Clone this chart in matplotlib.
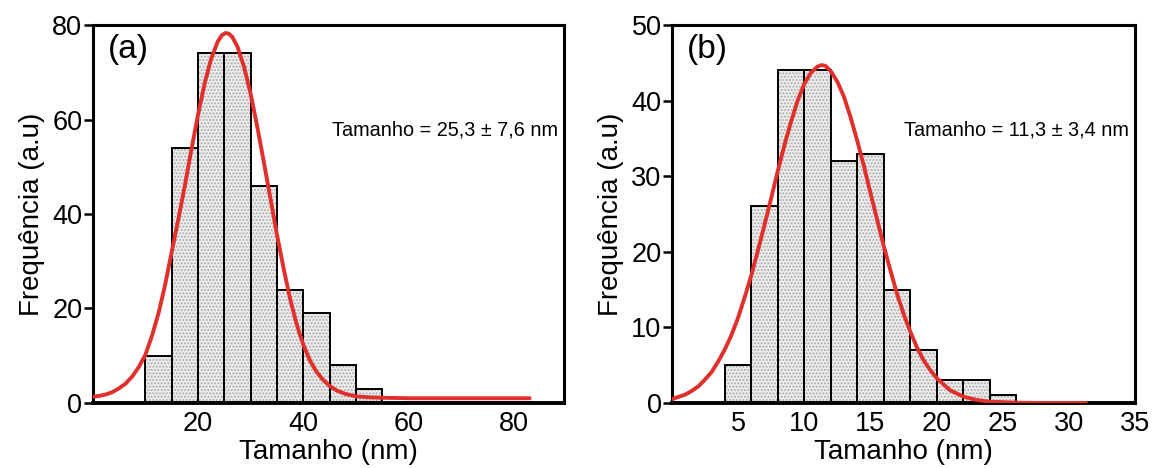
import matplotlib.pyplot as plt

plt.rcParams['font.family'] = ['Liberation Sans', 'DejaVu Sans']
plt.rcParams['hatch.linewidth'] = 0.9

# (a) histogram, bin width 5 nm
a_left = [10, 15, 20, 25, 30, 35, 40, 45, 50]
a_counts = [10, 54, 74, 74, 46, 24, 19, 8, 3]
a_width = 5
# fitted curve, points
a_fit_x = [0, 1.25, 2.5, 3.75, 5, 6.25, 7.5, 8.75, 10, 11.25, 12.5, 13.75, 15, 16.25,
           17.5, 18.75, 20, 21.25, 22.5, 23.75, 24.5, 25.2, 25.8, 26.5, 27.5, 28.75,
           30, 31.25, 32.5, 33.75, 35, 36.25, 37.5, 38.75, 40, 41.25, 42.5, 43.75,
           45, 46.25, 47.5, 48.75, 50, 52.5, 55, 60, 70, 83]
a_fit_y = [1.3, 1.5, 1.8, 2.3, 3.1, 4.1, 5.6, 7.6, 10.2, 14.2, 19.0, 25.0, 32.0, 38.8,
           46.0, 53.7, 61.0, 67.6, 72.9, 76.5, 77.8, 78.3, 78.2, 77.5, 75.4, 71.1,
           65.4, 58.5, 51.0, 43.3, 35.6, 28.5, 22.0, 16.6, 12.3, 9.0, 6.6, 4.9,
           3.6, 2.7, 2.1, 1.7, 1.4, 1.2, 1.1, 1.0, 1.0, 1.0]
a_text = "Tamanho = 25,3 \u00b1 7,6 nm"

# (b) histogram, bin width 2 nm
b_left = [4, 6, 8, 10, 12, 14, 16, 18, 20, 22, 24]
b_counts = [5, 26, 44, 44, 32, 33, 15, 7, 3, 3, 1]
b_width = 2
b_fit_x = [0, 0.5, 1, 1.5, 2, 2.5, 3, 3.5, 4, 4.5, 5, 5.5, 6, 6.5, 7, 7.5, 8, 8.5, 9,
           9.5, 10, 10.5, 11, 11.3, 11.6, 12, 12.5, 13, 13.5, 14, 14.5, 15, 15.5, 16,
           16.5, 17, 17.5, 18, 18.5, 19, 19.5, 20, 21, 22, 23, 24, 26, 28, 31.3]
b_fit_y = [0.5, 0.8, 1.1, 1.6, 2.2, 3.1, 4.1, 5.5, 7.1, 9.0, 11.3, 14.0, 16.9, 20.2,
           23.6, 27.1, 30.7, 34.1, 37.2, 40.0, 42.2, 43.7, 44.5, 44.7, 44.6, 43.9,
           42.5, 40.5, 37.8, 34.7, 31.4, 27.8, 24.3, 20.8, 17.6, 14.5, 11.8, 9.5,
           7.4, 5.7, 4.4, 3.3, 1.7, 0.85, 0.4, 0.17, 0.03, 0, 0]
b_text = "Tamanho = 11,3 \u00b1 3,4 nm"

red = '#e1302b'

fig = plt.figure(figsize=(11.52, 4.68), dpi=100)
ax_a = fig.add_axes([0.0805, 0.139, 0.4090, 0.8075])
ax_b = fig.add_axes([0.5833, 0.139, 0.4020, 0.8075])


def draw(ax, left, counts, width, fx, fy, text, label, xlim, ylim, xticks, yticks):
    ax.bar(left, counts, width=width, align='edge', color='#ececec',
           hatch='.....', edgecolor='#a8a8a8', linewidth=0, zorder=1)
    ax.bar(left, counts, width=width, align='edge', fill=False,
           edgecolor='black', linewidth=1.4, zorder=2)
    ax.plot(fx, fy, color=red, linewidth=2.8, zorder=3,
            solid_capstyle='round', solid_joinstyle='round')
    ax.set_xlim(*xlim)
    ax.set_ylim(*ylim)
    ax.set_xticks(xticks)
    ax.set_yticks(yticks)
    for s in ax.spines.values():
        s.set_linewidth(2.2)
    ax.spines['bottom'].set_linewidth(2.8)
    ax.tick_params(axis='y', length=6.5, width=1.8, labelsize=19.5, pad=1)
    ax.tick_params(axis='x', length=0, labelsize=19.5, pad=6)
    ax.set_xlabel("Tamanho (nm)", fontsize=20, labelpad=1)
    ax.set_ylabel("Frequ\u00eancia (a.u)", fontsize=20, labelpad=5)
    ax.text(0.032, 0.975, label, transform=ax.transAxes, fontsize=24,
            ha='left', va='top')
    ax.text(0.987, 0.722, text, transform=ax.transAxes, fontsize=14.3,
            ha='right', va='center')


draw(ax_a, a_left, a_counts, a_width, a_fit_x, a_fit_y, a_text, "(a)",
     (0, 89.5), (0, 80), [20, 40, 60, 80], [0, 20, 40, 60, 80])
draw(ax_b, b_left, b_counts, b_width, b_fit_x, b_fit_y, b_text, "(b)",
     (0, 35), (0, 50), [5, 10, 15, 20, 25, 30, 35], [0, 10, 20, 30, 40, 50])

fig.savefig("out.png", dpi=100)
plt.close(fig)
